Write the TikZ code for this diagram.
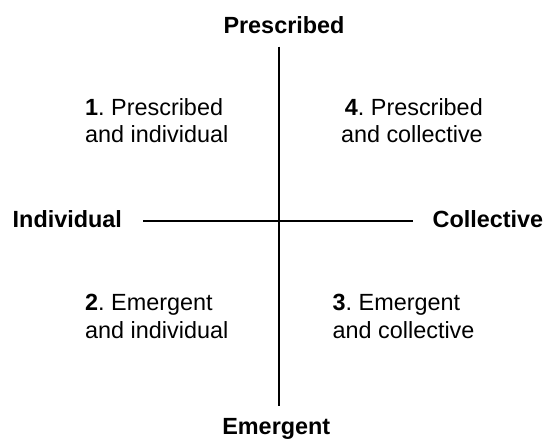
\documentclass[tikz,border=0pt]{standalone}
\usepackage{fontspec}
\setmainfont{Liberation Sans}
\frenchspacing
\begin{document}
\begin{tikzpicture}[x=1pt,y=-1pt,
  txt/.style={inner sep=0pt,font=\fontsize{23.4}{27.6}\selectfont},
  axislabel/.style={txt,font=\fontsize{23.4}{27.6}\selectfont\bfseries},
  axisline/.style={line width=1.8pt,black}]
\useasboundingbox (0,0) rectangle (544,439);
% axes
\coordinate (top) at (279.3,46.7);
\coordinate (bottom) at (279.3,406);
\coordinate (left) at (143.3,220.7);
\coordinate (right) at (413.3,220.7);
\draw[axisline] (top) -- (bottom);
\draw[axisline] (left) -- (right);
% axis labels
\node[axislabel,anchor=base] (presc) at (284,33.3) {Prescribed};
\node[axislabel,anchor=base] (emerg) at (276.3,434.5) {Emergent};
\node[axislabel,anchor=base west] (indiv) at (12.5,227.3) {Individual};
\node[axislabel,anchor=base west] (coll) at (432.5,227.3) {Collective};
% quadrants
\node[txt,anchor=base west] (q1a) at (85,115) {\textbf{1}. Prescribed};
\node[txt,anchor=base west] (q1b) at (85,142.7) {and individual};
\node[txt,anchor=base east] (q4a) at (483,115) {\textbf{4}. Prescribed};
\node[txt,anchor=base east] (q4b) at (483,142.7) {and collective};
\node[txt,anchor=base west] (q2a) at (85,310.7) {\textbf{2}. Emergent};
\node[txt,anchor=base west] (q2b) at (85,338.3) {and individual};
\node[txt,anchor=base west] (q3a) at (332.5,310.7) {\textbf{3}. Emergent};
\node[txt,anchor=base west] (q3b) at (332.5,338.3) {and collective};
\end{tikzpicture}
\end{document}
